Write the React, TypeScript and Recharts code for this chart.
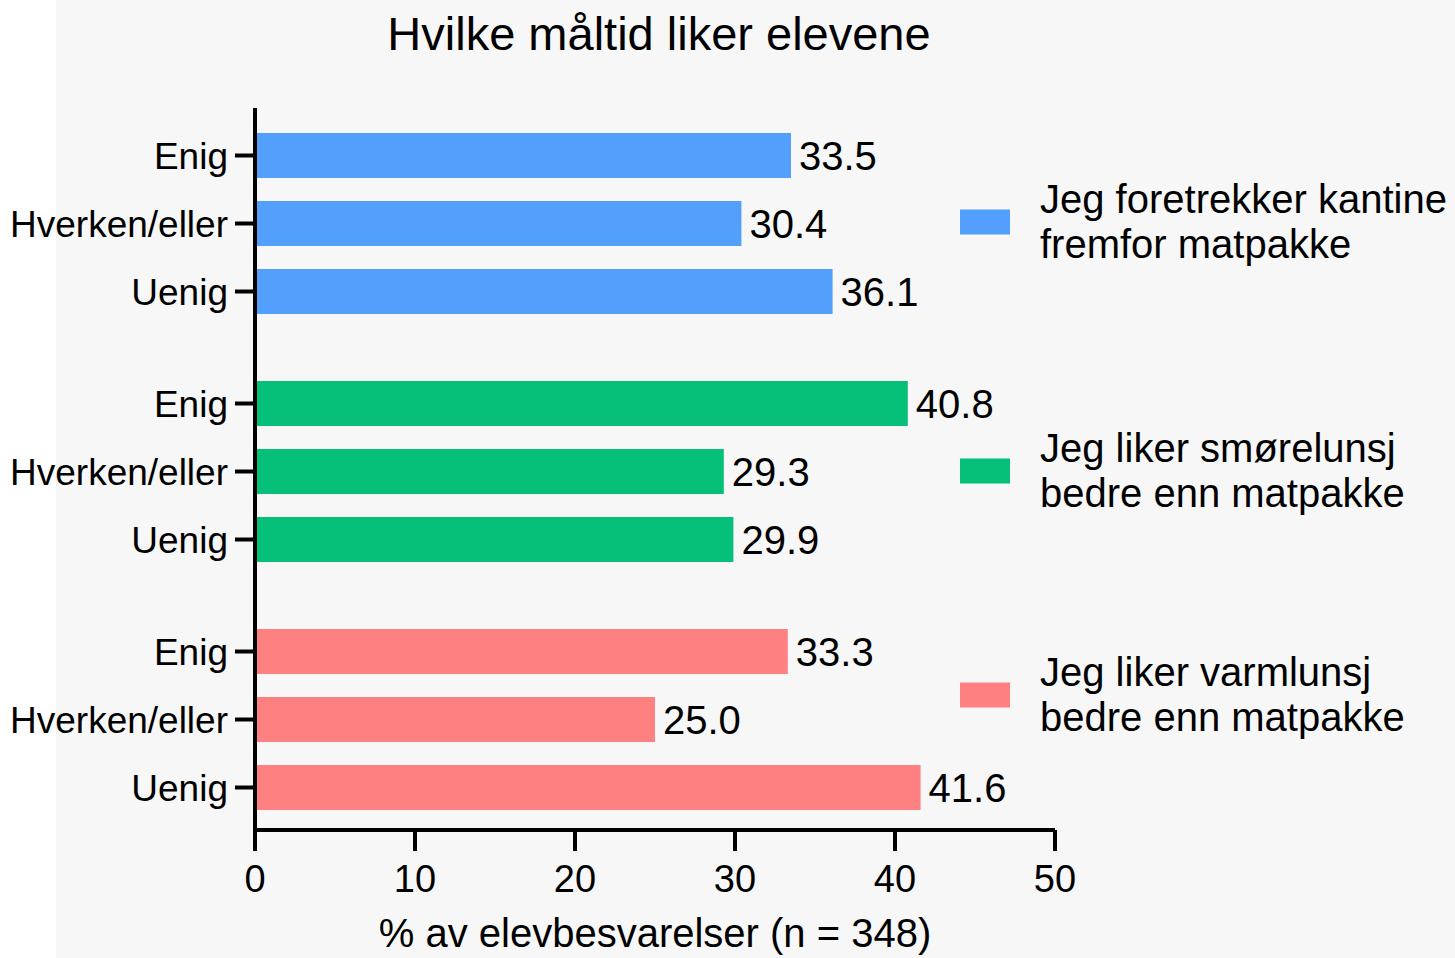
import React from 'react';
import { BarChart, Bar, XAxis, YAxis, LabelList, Cell, Legend, Label } from 'recharts';

const FONT = '"Liberation Sans", Arial, sans-serif';

const title = 'Hvilke måltid liker elevene';
const xAxisLabel = '% av elevbesvarelser (n = 348)';
const groups = ['kantine', 'smorelunsj', 'varmlunsj'];
const legendLines = [
  ['Jeg foretrekker kantine', 'fremfor matpakke'],
  ['Jeg liker smørelunsj', 'bedre enn matpakke'],
  ['Jeg liker varmlunsj', 'bedre enn matpakke'],
];
const responses = ['Enig', 'Hverken/eller', 'Uenig'];
const enig = [33.5, 40.8, 33.3];
const hverken = [30.4, 29.3, 25.0];
const uenig = [36.1, 29.9, 41.6];
const xTicks = [0, 10, 20, 30, 40, 50];
const colors = ['#539ffc', '#06bf78', '#ff8080'];

const data = groups.map((g, i) => ({ group: g, enig: enig[i], hverken: hverken[i], uenig: uenig[i] }));
const seriesKeys = ['enig', 'hverken', 'uenig'];

const makeCatLabel = (text: string) => (props: any) => {
  const vb = props.viewBox || props;
  const x = Number(vb.x ?? props.x);
  const y = Number(vb.y ?? props.y);
  const h = Number(vb.height ?? props.height);
  const cy = y + h / 2;
  return (
    <g>
      <line x1={x - 20} x2={x} y1={cy} y2={cy} stroke="#000" strokeWidth={4} />
      <text x={x - 27} y={cy + 13} textAnchor="end" fontSize={37} fill="#000" fontFamily={FONT}>
        {text}
      </text>
    </g>
  );
};

const legendY = [222, 471, 695];
const LEG_LEFT = 940;
const LEG_TOP = 150;

const LegendBox = () => (
  <svg width={515} height={620} style={{ display: 'block' }}>
    {legendLines.map((lines, i) => {
      const cy = legendY[i] - LEG_TOP;
      return (
        <g key={i}>
          <rect x={20} y={cy - 12.5} width={50} height={25} fill={colors[i]} />
          <text x={100} y={cy - 9} fontSize={40} fill="#000" fontFamily={FONT}>{lines[0]}</text>
          <text x={100} y={cy + 36} fontSize={40} fill="#000" fontFamily={FONT}>{lines[1]}</text>
        </g>
      );
    })}
  </svg>
);

export default function App() {
  return (
    <div style={{ position: 'absolute', left: 0, top: 0, width: 1455, height: 958, background: '#fff', overflow: 'hidden', fontFamily: FONT }}>
      <div style={{ position: 'absolute', left: 56, top: 0, width: 1399, height: 958, background: '#f7f7f7' }} />
      <svg style={{ position: 'absolute', left: 0, top: 0 }} width={1455} height={70}>
        <text x={659} y={50} textAnchor="middle" fontSize={47} fill="#000" fontFamily={FONT}>{title}</text>
      </svg>
      <div style={{ position: 'absolute', left: 0, top: 0 }}>
        <BarChart
          width={1455}
          height={958}
          data={data}
          layout="vertical"
          margin={{ top: 108, right: 400, bottom: 0, left: 254 }}
          barSize={45}
          barGap={23}
        >
          {seriesKeys.map((k, si) => (
            <Bar key={k} dataKey={k} isAnimationActive={false}>
              {data.map((d, i) => (
                <Cell key={i} fill={colors[i]} />
              ))}
              <LabelList dataKey={k} content={makeCatLabel(responses[si])} />
              <LabelList
                dataKey={k}
                position="right"
                offset={8}
                fontSize={40}
                fill="#000"
                fontFamily={FONT}
                formatter={(v: any) => Number(v).toFixed(1)}
              />
            </Bar>
          ))}
          <XAxis
            type="number"
            domain={[0, 50]}
            ticks={xTicks}
            height={128}
            tickSize={21}
            tickMargin={14}
            tick={{ fontSize: 38, fill: '#000', fontFamily: FONT }}
            axisLine={{ stroke: '#000', strokeWidth: 4 }}
            tickLine={{ stroke: '#000', strokeWidth: 4 }}
          >
            <Label value={xAxisLabel} position="insideBottom" offset={11} fontSize={40} fill="#000" fontFamily={FONT} />
          </XAxis>
          <YAxis
            type="category"
            dataKey="group"
            width={1}
            tick={false}
            tickLine={false}
            axisLine={{ stroke: '#000', strokeWidth: 4 }}
            padding={{ top: -9, bottom: -13 }}
          />
          <Legend
            layout="horizontal"
            verticalAlign="middle"
            align="center"
            wrapperStyle={{ left: LEG_LEFT, top: LEG_TOP, width: 515, height: 620 }}
            content={() => <LegendBox />}
          />
        </BarChart>
      </div>
    </div>
  );
}
